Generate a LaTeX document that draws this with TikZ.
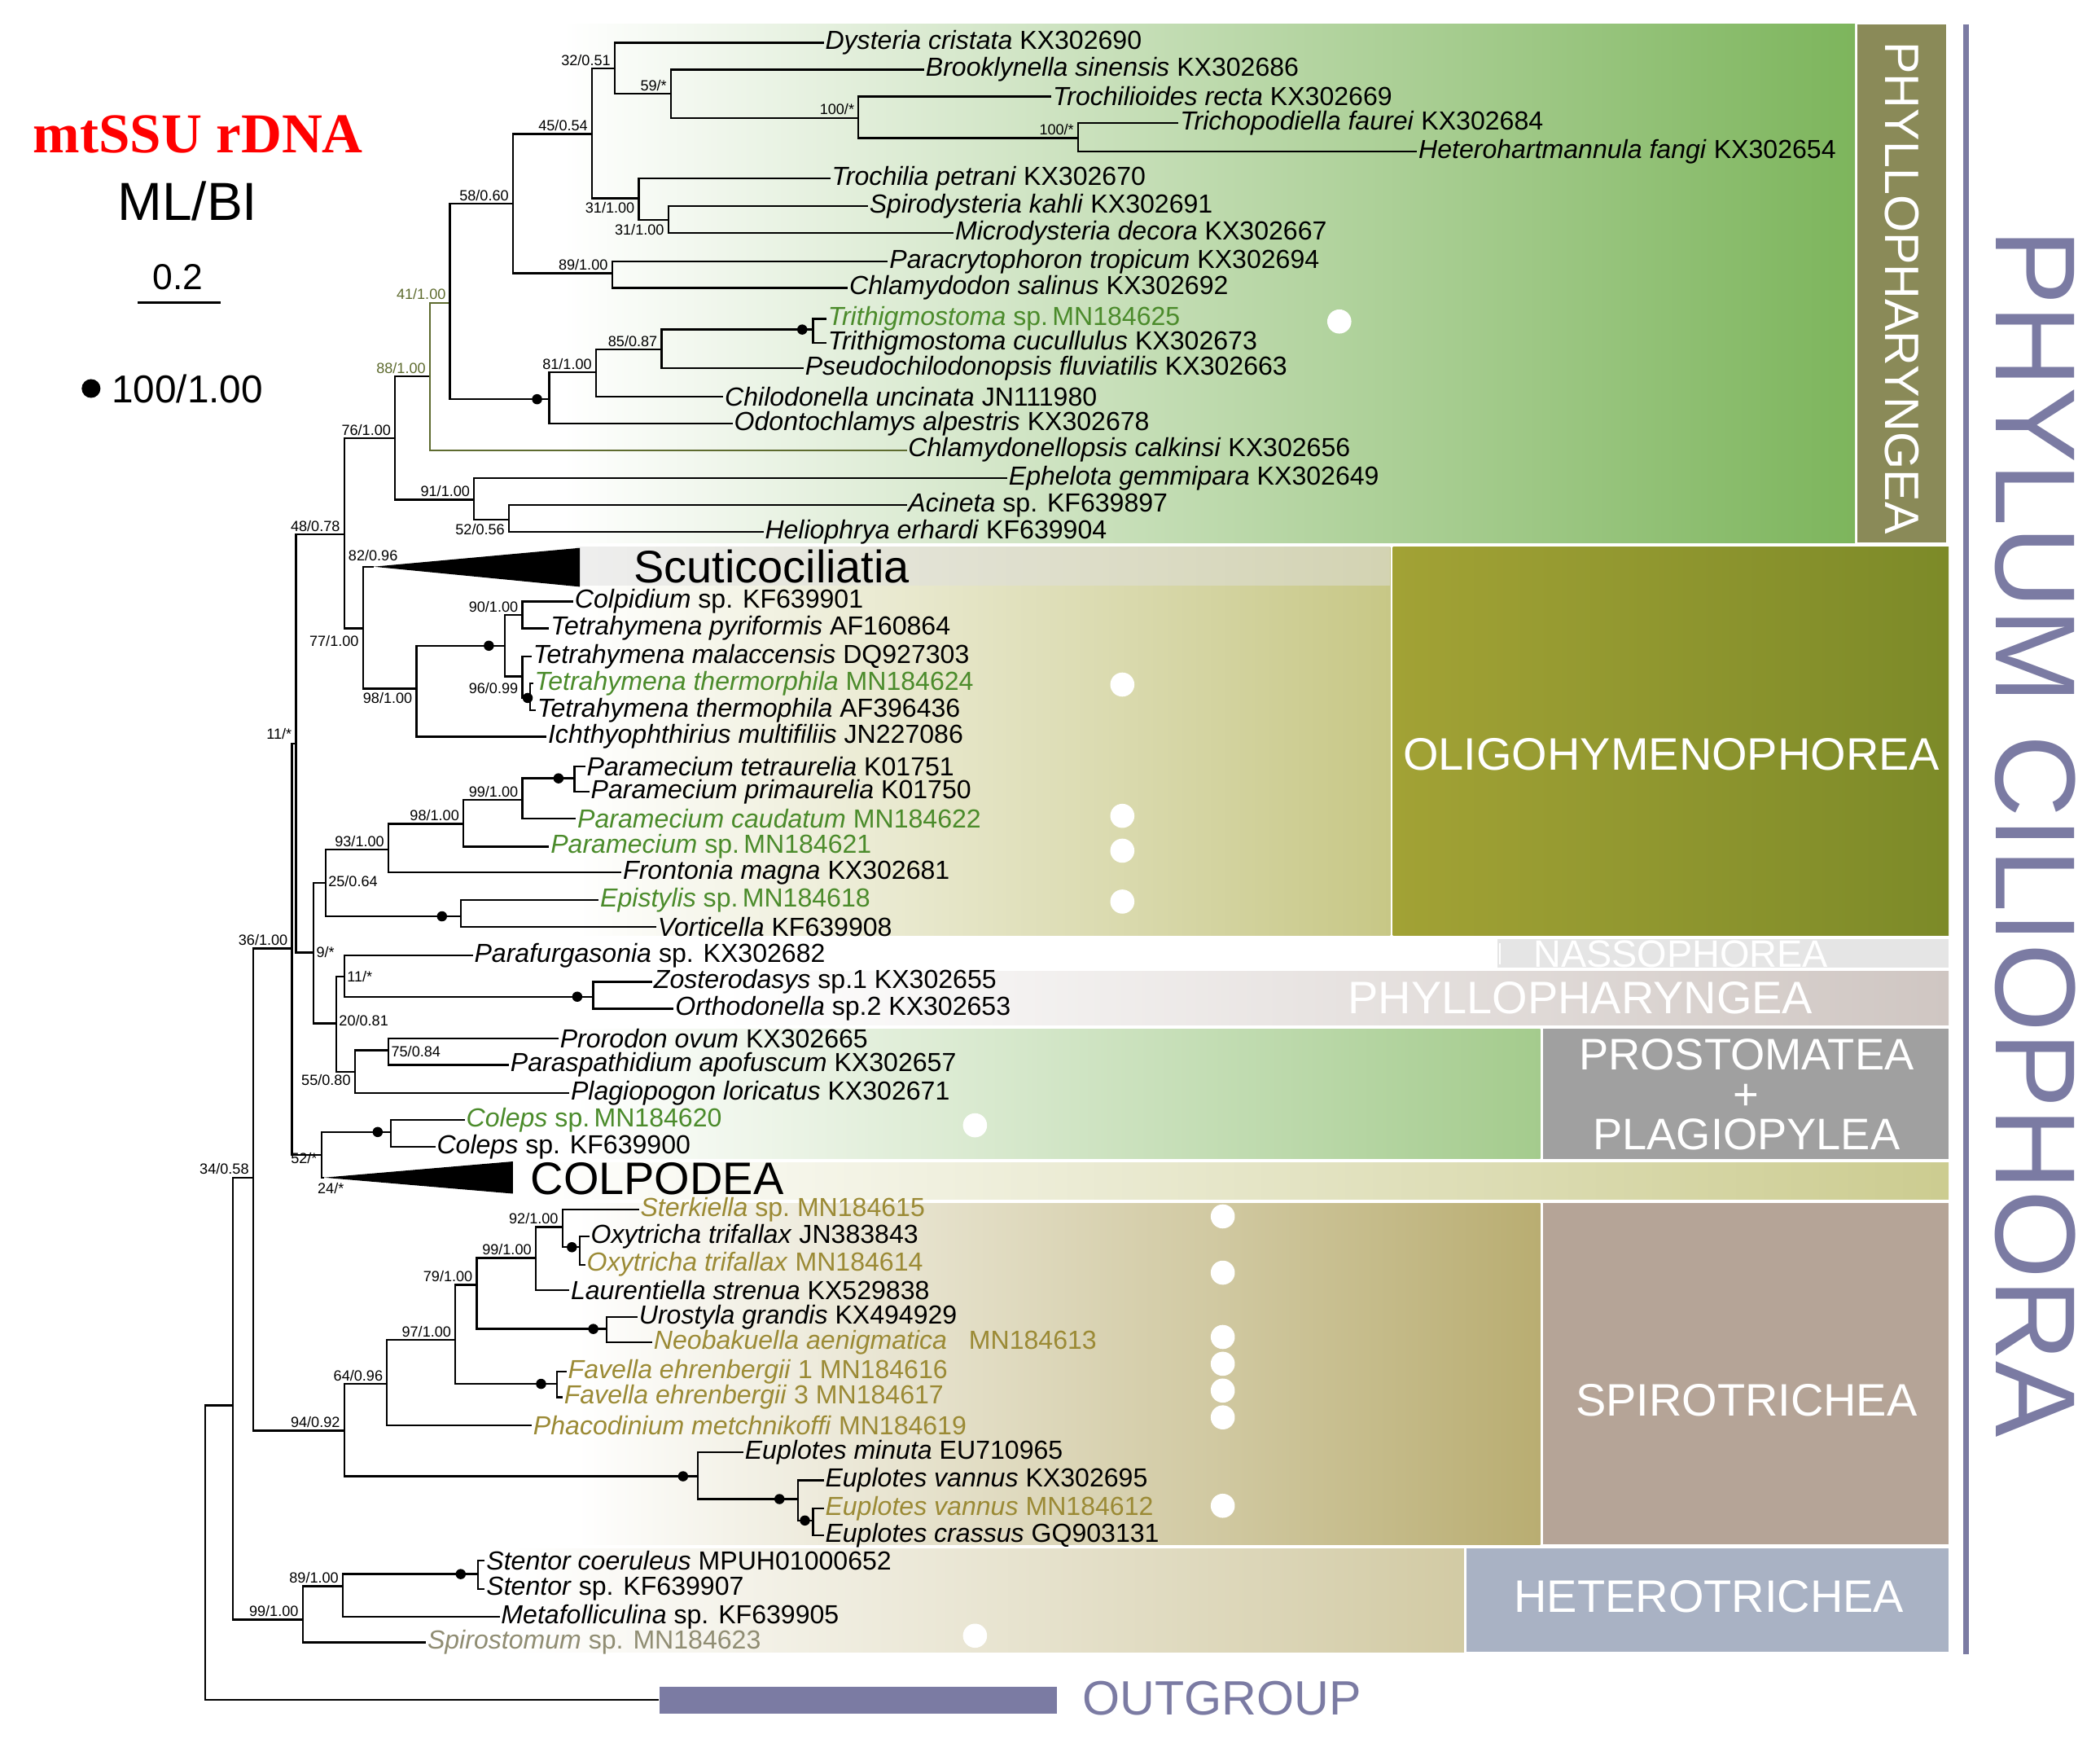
\documentclass[tikz,border=0pt]{standalone}
\usepackage{fontspec}
\setmainfont{Liberation Sans}
\newfontfamily\serifb{Liberation Serif}
\definecolor{slate}{HTML}{7B7BA3}
\definecolor{gtext}{HTML}{4B8B2B}
\definecolor{otext}{HTML}{9B8A35}
\definecolor{olv}{HTML}{5E6B2F}
\definecolor{phylbox}{HTML}{8A8A58}
\definecolor{grn}{HTML}{7DB55C}
\definecolor{oliA}{HTML}{A2A235}
\definecolor{oliB}{HTML}{7C8A28}
\definecolor{prosbox}{HTML}{A0A0A0}
\definecolor{spirobox}{HTML}{B5A497}
\definecolor{heterobox}{HTML}{A9B2C4}
\definecolor{phyrow}{HTML}{CFC6C2}
\newcommand\lf[5][black]{\node[leaf,text=#1] (#2) at (#3,#4) {#5};}
\newcommand\br[2]{\draw[tree] (#1) |- (#2);}
\newcommand\bl[3]{\node[bs,anchor=#3] at (#1) {#2};}
\begin{document}
\begin{tikzpicture}[x=1pt,y=-1pt,
  tree/.style={line width=1.4pt},
  leaf/.style={anchor=west,inner sep=1pt,font=\fontsize{19.5}{19.5}\selectfont},
  bs/.style={inner sep=1pt,font=\fontsize{11}{11}\selectfont},
  boxt/.style={text=white,font=\fontsize{34}{34}\selectfont,align=center}]
\useasboundingbox (0,0) rectangle (1568,1301);
% backgrounds
\shade[left color=white,right color=grn] (420,18) rectangle (1385,405);
\fill[phylbox] (1387,18) rectangle (1453,405);
\node[boxt,rotate=-90,font=\fontsize{36}{36}\selectfont] at (1420,215) {PHYLLOPHARYNGEA};
\shade[left color=white,right color=oliA!60] (430,408) rectangle (1038,698);
\fill[gray!25,opacity=0.5] (430,408) rectangle (1038,437);
\shade[left color=oliA,right color=oliB] (1040,408) rectangle (1455,698);
\node[boxt] at (1248,563) {OLIGOHYMENOPHOREA};
\fill[gray!20] (1118,701) rectangle (1455,722);
\node[text=white,font=\fontsize{28.5}{28.5}\selectfont] at (1255,712) {NASSOPHOREA};
\draw[white,line width=1.5pt] (1120,704) -- (1120,720);
\shade[left color=white,right color=phyrow] (540,725) rectangle (1455,765);
\node[boxt] at (1180,745) {PHYLLOPHARYNGEA};
\shade[left color=white,right color=grn!70] (430,768) rectangle (1150,865);
\fill[prosbox] (1152,768) rectangle (1455,865);
\node[boxt,font=\fontsize{33}{30}\selectfont] at (1304,817) {PROSTOMATEA\\+\\PLAGIOPYLEA};
\shade[left color=white,right color=oliA!55] (390,868) rectangle (1455,895);
\shade[left color=white,right color=otext!70] (430,898) rectangle (1150,1153);
\fill[spirobox] (1152,898) rectangle (1455,1153);
\node[boxt] at (1304,1045) {SPIROTRICHEA};
\shade[left color=white,right color=otext!45] (380,1156) rectangle (1093,1233);
\fill[heterobox] (1095,1156) rectangle (1455,1233);
\node[boxt] at (1276,1192) {HETEROTRICHEA};
\draw[slate,line width=4pt] (1468,18) -- (1468,1235);
\node[text=slate,rotate=-90,font=\fontsize{85}{85}\selectfont] at (1520,622) {PHYLUM CILIOPHORA};
% white dots
\foreach \p in {(1000,240),(838,511),(838,609),(838,635),(838,673),(728,840),(913,908),(913,950),(913,998),(913,1018),(913,1038),(913,1058),(913,1124),(728,1221)}
  \fill[white] \p circle (9);
% legend
\node[text=red,font=\serifb\bfseries\fontsize{42}{42}\selectfont] (leg1) at (148,100) {mtSSU rDNA};
\node[font=\fontsize{40}{40}\selectfont] (leg2) at (140,150) {ML/BI};
\node[font=\fontsize{27}{27}\selectfont] (leg3) at (133,207) {0.2};
\draw[line width=2pt] (103,226) -- (165,226);
\fill (68,290) circle (7);
\node[anchor=west,font=\fontsize{29}{29}\selectfont] (leg4) at (80,290) {100/1.00};
% internal node coordinates
\coordinate (root) at (153,1160);
\coordinate (N34) at (174,1049);
\coordinate (Ny) at (189,879);
\coordinate (N36) at (218,708);
\coordinate (N11) at (221,555);
\coordinate (N48) at (257,399);
\coordinate (N76) at (295,327);
\coordinate (N88) at (321,281);
\coordinate (N41) at (336,226);
\coordinate (N58) at (383,152);
\coordinate (N45) at (442,100);
\coordinate (N32) at (459,51);
\coordinate (N59) at (501,70);
\coordinate (N100) at (641,88);
\coordinate (Ntri) at (805,103);
\coordinate (N31a) at (477,148);
\coordinate (N31b) at (499,164);
\coordinate (N89) at (457,204);
\coordinate (Nchil) at (410,298);
\coordinate (N81) at (445,278);
\coordinate (N85) at (494,261);
\coordinate (Ntrith) at (607,246);
\coordinate (N91) at (354,373);
\coordinate (N52b) at (380,388);
\coordinate (N77) at (271,469);
\coordinate (N98) at (311,514);
\coordinate (Ntet) at (377,482);
\coordinate (N90) at (390,459);
\coordinate (N96) at (390,505);
\coordinate (Nth) at (396,521);
\coordinate (N9) at (234,711);
\coordinate (N25) at (243,659);
\coordinate (N93) at (290,634);
\coordinate (N98p) at (346,615);
\coordinate (N99p) at (390,597);
\coordinate (Npar) at (429,581);
\coordinate (Nvort) at (344,684);
\coordinate (N20) at (251,764);
\coordinate (N11b) at (257,729);
\coordinate (Nzos) at (443,744);
\coordinate (N55) at (265,800);
\coordinate (N75) at (290,784);
\coordinate (N52) at (240,862);
\coordinate (Ncol) at (292,845);
\coordinate (N94) at (257,1068);
\coordinate (N64) at (289,1033);
\coordinate (N97) at (340,1000);
\coordinate (N79) at (356,959);
\coordinate (N99s) at (400,939);
\coordinate (N92) at (420,916);
\coordinate (Noxy) at (433,931);
\coordinate (Nuro) at (453,992);
\coordinate (Nfav) at (416,1033);
\coordinate (Neup) at (521,1102);
\coordinate (Nev) at (596,1119);
\coordinate (Ncr) at (607,1135);
\coordinate (N99h) at (226,1209);
\coordinate (N89h) at (256,1184);
\coordinate (Nst) at (357,1175);
% leaves
\lf{Dys}{615}{32}{\textit{Dysteria cristata} KX302690}
\lf{Bro}{690}{52}{\textit{Brooklynella sinensis} KX302686}
\lf{Trl}{785}{72}{\textit{Trochilioides recta} KX302669}
\lf{Tpd}{880}{92}{\textit{Trichopodiella faurei} KX302684}
\lf{Het}{1058}{113}{\textit{Heterohartmannula fangi} KX302654}
\lf{Trp}{620}{133}{\textit{Trochilia petrani} KX302670}
\lf{Spd}{648}{154}{\textit{Spirodysteria kahli} KX302691}
\lf{Mcd}{712}{174}{\textit{Microdysteria decora} KX302667}
\lf{Pct}{663}{195}{\textit{Paracrytophoron tropicum} KX302694}
\lf{Chs}{633}{215}{\textit{Chlamydodon salinus} KX302692}
\lf[gtext]{Tts}{617}{238}{\textit{Trithigmostoma} sp.\,MN184625}
\lf{Ttc}{617}{256}{\textit{Trithigmostoma cucullulus} KX302673}
\lf{Psd}{600}{275}{\textit{Pseudochilodonopsis fluviatilis} KX302663}
\lf{Chu}{540}{296}{\textit{Chilodonella uncinata} JN111980}
\lf{Oda}{547}{316}{\textit{Odontochlamys alpestris} KX302678}
\lf{Chc}{677}{336}{\textit{Chlamydonellopsis calkinsi} KX302656}
\lf{Epg}{752}{357}{\textit{Ephelota gemmipara} KX302649}
\lf{Aci}{677}{377}{\textit{Acineta} sp. KF639897}
\lf{Hel}{570}{397}{\textit{Heliophrya erhardi} KF639904}
\node[anchor=west,inner sep=1pt,font=\fontsize{34}{34}\selectfont] (Scu) at (472,423) {Scuticociliatia};
\fill (279,423) -- (433,409) -- (433,438) -- cycle;
\coordinate (ScuT) at (279,423);
\lf{Col}{428}{449}{\textit{Colpidium} sp. KF639901}
\lf{Tpy}{410}{469}{\textit{Tetrahymena pyriformis} AF160864}
\lf{Tma}{397}{490}{\textit{Tetrahymena malaccensis} DQ927303}
\lf[gtext]{TtM}{398}{510}{\textit{Tetrahymena thermorphila} MN184624}
\lf{TtA}{400}{530}{\textit{Tetrahymena thermophila} AF396436}
\lf{Ich}{408}{550}{\textit{Ichthyophthirius multifiliis} JN227086}
\lf{Pte}{437}{572}{\textit{Paramecium tetraurelia} K01751}
\lf{Ppr}{440}{591}{\textit{Paramecium primaurelia} K01750}
\lf[gtext]{Pca}{430}{611}{\textit{Paramecium caudatum} MN184622}
\lf[gtext]{Psp}{410}{632}{\textit{Paramecium} sp.\,MN184621}
\lf{Fro}{464}{651}{\textit{Frontonia magna} KX302681}
\lf[gtext]{Epi}{447}{672}{\textit{Epistylis} sp.\,MN184618}
\lf{Vor}{490}{692}{\textit{Vorticella} KF639908}
\lf{Paf}{353}{713}{\textit{Parafurgasonia} sp. KX302682}
\lf{Zos}{487}{733}{\textit{Zosterodasys} sp.1 KX302655}
\lf{Ort}{503}{753}{\textit{Orthodonella} sp.2 KX302653}
\lf{Pro}{417}{775}{\textit{Prorodon ovum} KX302665}
\lf{Pas}{380}{795}{\textit{Paraspathidium apofuscum} KX302657}
\lf{Pla}{425}{816}{\textit{Plagiopogon loricatus} KX302671}
\lf[gtext]{CoM}{347}{836}{\textit{Coleps} sp.\,MN184620}
\lf{CoK}{325}{856}{\textit{Coleps} sp. KF639900}
\node[anchor=west,inner sep=1pt,font=\fontsize{34}{34}\selectfont] (Cpd) at (395,880) {COLPODEA};
\fill (242,879) -- (383,867) -- (383,891) -- cycle;
\coordinate (CpdT) at (242,879);
\lf[otext]{Stk}{477}{903}{\textit{Sterkiella} sp.\ MN184615}
\lf{OxJ}{440}{923}{\textit{Oxytricha trifallax} JN383843}
\lf[otext]{OxM}{437}{944}{\textit{Oxytricha trifallax} MN184614}
\lf{Lau}{425}{963}{\textit{Laurentiella strenua} KX529838}
\lf{Uro}{476}{983}{\textit{Urostyla grandis} KX494929}
\lf[otext]{Neo}{487}{1002}{\textit{Neobakuella aenigmatica}\ \ \ MN184613}
\lf[otext]{Fa1}{423}{1024}{\textit{Favella ehrenbergii} 1 MN184616}
\lf[otext]{Fa3}{420}{1043}{\textit{Favella ehrenbergii} 3 MN184617}
\lf[otext]{Pha}{397}{1064}{\textit{Phacodinium metchnikoffi} MN184619}
\lf{Emi}{555}{1084}{\textit{Euplotes minuta} EU710965}
\lf{EvK}{615}{1105}{\textit{Euplotes vannus} KX302695}
\lf[otext]{EvM}{615}{1126}{\textit{Euplotes vannus} MN184612}
\lf{Ecr}{615}{1146}{\textit{Euplotes crassus} GQ903131}
\lf{Stc}{362}{1165}{\textit{Stentor coeruleus} MPUH01000652}
\lf{Sts}{362}{1186}{\textit{Stentor} sp. KF639907}
\lf{Mef}{373}{1207}{\textit{Metafolliculina} sp. KF639905}
\lf[gray!80!olive]{Spi}{318}{1226}{\textit{Spirostomum} sp. MN184623}
\node[fill=slate,inner sep=0pt,minimum width=297pt,minimum height=20pt,anchor=west] (og) at (492,1269) {};
\node[anchor=west,text=slate,font=\fontsize{36}{36}\selectfont] (ogt) at (805,1268) {OUTGROUP};
% branches
\br{root}{N34}\br{root}{og.west}
\br{N34}{Ny}\br{N34}{N99h}
\br{Ny}{N36}\br{Ny}{N94}
\br{N36}{N11}\br{N36}{N52}
\br{N11}{N48}\br{N11}{N9}
\br{N48}{N76}\br{N48}{N77}
\br{N76}{N88}\br{N76}{N91}
\draw[tree,olv] (N88) |- (N41); \draw[tree,olv] (N88) |- (Chc.west);
\br{N41}{N58}\br{N41}{Nchil}
\br{N58}{N45}\br{N58}{N89}
\br{N45}{N32}\br{N45}{N31a}
\br{N32}{Dys.west}\br{N32}{N59}
\br{N59}{Bro.west}\br{N59}{N100}
\br{N100}{Trl.west}\br{N100}{Ntri}
\br{Ntri}{Tpd.west}\br{Ntri}{Het.west}
\br{N31a}{Trp.west}\br{N31a}{N31b}
\br{N31b}{Spd.west}\br{N31b}{Mcd.west}
\br{N89}{Pct.west}\br{N89}{Chs.west}
\br{Nchil}{N81}\br{Nchil}{Oda.west}
\br{N81}{N85}\br{N81}{Chu.west}
\br{N85}{Ntrith}\br{N85}{Psd.west}
\br{Ntrith}{Tts.west}\br{Ntrith}{Ttc.west}
\br{N91}{Epg.west}\br{N91}{N52b}
\br{N52b}{Aci.west}\br{N52b}{Hel.west}
\br{N77}{ScuT}\br{N77}{N98}
\br{N98}{Ntet}\br{N98}{Ich.west}
\br{Ntet}{N90}\br{Ntet}{N96}
\br{N90}{Col.west}\br{N90}{Tpy.west}
\br{N96}{Tma.west}\br{N96}{Nth}
\br{Nth}{TtM.west}\br{Nth}{TtA.west}
\br{N9}{N25}\br{N9}{N20}
\br{N25}{N93}\br{N25}{Nvort}
\br{N93}{N98p}\br{N93}{Fro.west}
\br{N98p}{N99p}\br{N98p}{Psp.west}
\br{N99p}{Npar}\br{N99p}{Pca.west}
\br{Npar}{Pte.west}\br{Npar}{Ppr.west}
\br{Nvort}{Epi.west}\br{Nvort}{Vor.west}
\br{N20}{N11b}\br{N20}{N55}
\br{N11b}{Paf.west}\br{N11b}{Nzos}
\br{Nzos}{Zos.west}\br{Nzos}{Ort.west}
\br{N55}{N75}\br{N55}{Pla.west}
\br{N75}{Pro.west}\br{N75}{Pas.west}
\br{N52}{Ncol}\br{N52}{CpdT}
\br{Ncol}{CoM.west}\br{Ncol}{CoK.west}
\br{N94}{N64}\br{N94}{Neup}
\br{N64}{N97}\br{N64}{Pha.west}
\br{N97}{N79}\br{N97}{Nfav}
\br{N79}{N99s}\br{N79}{Nuro}
\br{N99s}{N92}\br{N99s}{Lau.west}
\br{N92}{Stk.west}\br{N92}{Noxy}
\br{Noxy}{OxJ.west}\br{Noxy}{OxM.west}
\br{Nuro}{Uro.west}\br{Nuro}{Neo.west}
\br{Nfav}{Fa1.west}\br{Nfav}{Fa3.west}
\br{Neup}{Emi.west}\br{Neup}{Nev}
\br{Nev}{EvK.west}\br{Nev}{Ncr}
\br{Ncr}{EvM.west}\br{Ncr}{Ecr.west}
\br{N99h}{N89h}\br{N99h}{Spi.west}
\br{N89h}{Nst}\br{N89h}{Mef.west}
\br{Nst}{Stc.west}\br{Nst}{Sts.west}
% dots
\foreach \p in {(401,298),(599,246),(365,482),(394,521),(417,581),(330,684),(431,744),(282,845),(427,931),(443,992),(404,1033),(510,1102),(582,1119),(601,1135),(344,1175)}
  \fill \p circle (3.8);
% support labels
\bl{457,50}{32/0.51}{south east}
\bl{499,69}{59/*}{south east}
\bl{639,87}{100/*}{south east}
\bl{803,102}{100/*}{south east}
\bl{440,99}{45/0.54}{south east}
\bl{475,150}{31/1.00}{north east}
\bl{497,166}{31/1.00}{north east}
\bl{381,151}{58/0.60}{south east}
\bl{455,203}{89/1.00}{south east}
\node[bs,anchor=south east,text=olv] at (334,225) {41/1.00};
\node[bs,anchor=south east,text=olv] at (319,280) {88/1.00};
\bl{492,260}{85/0.87}{south east}
\bl{443,277}{81/1.00}{south east}
\bl{293,326}{76/1.00}{south east}
\bl{352,372}{91/1.00}{south east}
\bl{378,390}{52/0.56}{north east}
\bl{255,398}{48/0.78}{south east}
\bl{259,420}{82/0.96}{south west}
\bl{269,473}{77/1.00}{north east}
\bl{309,516}{98/1.00}{north east}
\bl{388,458}{90/1.00}{south east}
\bl{388,514}{96/0.99}{east}
\bl{219,553}{11/*}{south east}
\bl{388,596}{99/1.00}{south east}
\bl{344,614}{98/1.00}{south east}
\bl{288,633}{93/1.00}{south east}
\bl{244,658}{25/0.64}{west}
\bl{216,707}{36/1.00}{south east}
\bl{235,711}{9/*}{west}
\bl{258,729}{11/*}{west}
\bl{252,762}{20/0.81}{west}
\bl{291,785}{75/0.84}{west}
\bl{263,806}{55/0.80}{east}
\bl{238,870}{52/*}{south east}
\bl{236,887}{24/*}{west}
\bl{187,878}{34/0.58}{south east}
\bl{418,915}{92/1.00}{south east}
\bl{398,938}{99/1.00}{south east}
\bl{354,958}{79/1.00}{south east}
\bl{338,999}{97/1.00}{south east}
\bl{287,1032}{64/0.96}{south east}
\bl{255,1067}{94/0.92}{south east}
\bl{254,1183}{89/1.00}{south east}
\bl{224,1208}{99/1.00}{south east}
\end{tikzpicture}
\end{document}
